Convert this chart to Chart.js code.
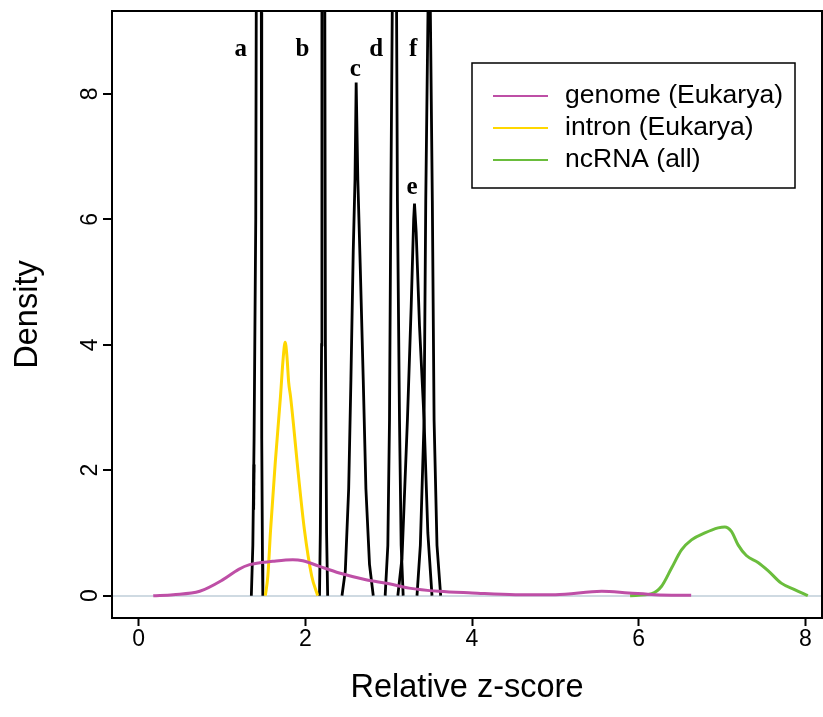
<!DOCTYPE html>
<html>
<head>
<meta charset="utf-8">
<script src="https://cdn.jsdelivr.net/npm/chart.js@4/dist/chart.umd.min.js"></script>
<style>
  html, body { margin: 0; padding: 0; background: #fff; }
</style>
</head>
<body>
<canvas id="chart" width="823" height="717"></canvas>
<script>
// axis ticks
const xTicks = [0, 2, 4, 6, 8];
const yTicks = [0, 2, 4, 6, 8];

// coloured density curves
const seriesNames = ['genome (Eukarya)', 'intron (Eukarya)', 'ncRNA (all)'];
const genomeX = [0.175, 0.414, 0.733, 1.012, 1.2, 1.331, 1.61, 1.849, 1.969, 2.169, 2.408, 2.727, 3.006, 3.245, 3.604, 4.002, 4.52, 5.0, 5.557, 5.877, 6.196, 6.63];
const genomeY = [0, 0.016, 0.07, 0.255, 0.42, 0.494, 0.547, 0.574, 0.558, 0.467, 0.362, 0.255, 0.19, 0.12, 0.069, 0.043, 0.016, 0.016, 0.069, 0.043, 0.016, 0.005];
const intronX = [1.52, 1.55, 1.583, 1.639, 1.702, 1.735, 1.758, 1.78, 1.80, 1.822, 1.86, 1.902, 1.989, 2.077, 2.148];
const intronY = [0, 0.31, 1.05, 2.12, 3.18, 3.8, 4.04, 3.8, 3.4, 3.18, 2.7, 2.12, 1.05, 0.31, 0];
const ncrnaX = [5.897, 6.156, 6.275, 6.395, 6.514, 6.634, 6.794, 6.953, 7.033, 7.113, 7.193, 7.292, 7.432, 7.552, 7.711, 7.871, 8.03];
const ncrnaY = [0, 0.032, 0.15, 0.44, 0.73, 0.89, 1.0, 1.08, 1.096, 1.025, 0.81, 0.64, 0.53, 0.40, 0.20, 0.096, 0];

// black peaks a-f
const peakAX = [1.352, 1.37, 1.385, 1.405, 1.411, 1.44, 1.472, 1.475, 1.479, 1.486, 1.49];
const peakAY = [0, 0.8, 2.5, 6, 9.3, 40, 9.3, 6, 2.5, 0.5, 0];
const stubAX = [1.38, 1.385];
const stubAY = [1.37, 2.09];
const peakBX = [2.17, 2.18, 2.195, 2.199, 2.215, 2.234, 2.241, 2.255, 2.268];
const peakBY = [0, 1, 4, 9.3, 40, 9.3, 4, 1, 0];
const peakCX = [2.44, 2.48, 2.52, 2.547, 2.575, 2.596, 2.61, 2.63, 2.66, 2.695, 2.727, 2.77, 2.815];
const peakCY = [0, 0.4, 1.7, 3.44, 5.5, 6.63, 8.18, 6.63, 5.2, 3.44, 1.7, 0.5, 0];
const peakDX = [2.958, 2.99, 3.01, 3.026, 3.043, 3.07, 3.095, 3.105, 3.13, 3.15, 3.174];
const peakDY = [0, 0.8, 2.8, 6.3, 9.3, 15, 9.3, 6.3, 2.8, 0.8, 0];
const peakEX = [3.11, 3.16, 3.225, 3.27, 3.30, 3.31, 3.33, 3.37, 3.425, 3.47, 3.52];
const peakEY = [0, 0.6, 2.8, 4.6, 6.0, 6.25, 5.8, 4.3, 2.8, 1.0, 0];
const peakFX = [3.34, 3.38, 3.425, 3.445, 3.487, 3.524, 3.545, 3.58, 3.624];
const peakFY = [0, 0.8, 2.8, 6.3, 11, 6.3, 2.8, 0.8, 0];

// peak letters
const peakLetters = ['a', 'b', 'c', 'd', 'e', 'f'];
const letterX = [1.224, 1.965, 2.60, 2.85, 3.28, 3.293];
const letterY = [8.74, 8.74, 8.42, 8.74, 6.54, 8.74];

const seriesColors = ['#be4fa6', '#ffd700', '#6abd3c'];

function pts(xs, ys) {
  return xs.map((x, i) => ({ x: x, y: ys[i] }));
}

function blackLine(xs, ys) {
  return {
    data: pts(xs, ys),
    borderColor: '#000',
    borderWidth: 2.8,
    pointRadius: 0,
    showLine: true,
    tension: 0,
    fill: false
  };
}

function colourLine(i, xs, ys) {
  return {
    label: seriesNames[i],
    data: pts(xs, ys),
    borderColor: seriesColors[i],
    borderWidth: 3,
    pointRadius: 0,
    showLine: true,
    cubicInterpolationMode: 'monotone',
    fill: false
  };
}

const sans = "'Liberation Sans', Arial, sans-serif";

const rStyle = {
  id: 'rStyle',
  afterDraw(chart) {
    const ctx = chart.ctx;
    const area = chart.chartArea;
    const xs = chart.scales.x;
    const ys = chart.scales.y;
    ctx.save();
    // plot box
    ctx.strokeStyle = '#000';
    ctx.lineWidth = 2;
    ctx.strokeRect(area.left, area.top, area.right - area.left, area.bottom - area.top);

    // rotated y tick labels
    ctx.fillStyle = '#000';
    ctx.font = '23px ' + sans;
    ctx.textAlign = 'center';
    ctx.textBaseline = 'middle';
    yTicks.forEach(v => {
      ctx.save();
      ctx.translate(area.left - 21, ys.getPixelForValue(v));
      ctx.rotate(-Math.PI / 2);
      ctx.fillText(String(v), 0, 0);
      ctx.restore();
    });

    // peak letters
    ctx.font = "bold 25px 'Liberation Serif', 'Times New Roman', serif";
    ctx.textBaseline = 'alphabetic';
    peakLetters.forEach((t, i) => {
      ctx.fillText(t, xs.getPixelForValue(letterX[i]), ys.getPixelForValue(letterY[i]) + 9);
    });

    // legend
    const bx = 472, by = 63, bw = 323, bh = 125;
    ctx.fillStyle = '#fff';
    ctx.fillRect(bx, by, bw, bh);
    ctx.lineWidth = 1.5;
    ctx.strokeRect(bx, by, bw, bh);
    ctx.font = '26.5px ' + sans;
    ctx.textAlign = 'left';
    ctx.textBaseline = 'middle';
    seriesNames.forEach((name, i) => {
      const yy = by + 33 + i * 32;
      ctx.strokeStyle = seriesColors[i];
      ctx.lineWidth = 2;
      ctx.beginPath();
      ctx.moveTo(bx + 21, yy);
      ctx.lineTo(bx + 76, yy);
      ctx.stroke();
      ctx.fillStyle = '#000';
      ctx.fillText(name, bx + 93, yy);
    });
    ctx.restore();
  }
};

new Chart(document.getElementById('chart'), {
  type: 'scatter',
  data: {
    datasets: [
      colourLine(0, genomeX, genomeY),
      colourLine(1, intronX, intronY),
      colourLine(2, ncrnaX, ncrnaY),
      blackLine(peakAX, peakAY),
      blackLine(stubAX, stubAY),
      blackLine(peakBX, peakBY),
      blackLine(peakCX, peakCY),
      blackLine(peakDX, peakDY),
      blackLine(peakEX, peakEY),
      blackLine(peakFX, peakFY)
    ]
  },
  options: {
    responsive: false,
    animation: false,
    layout: { padding: { top: 11, right: 1, left: 0, bottom: 0 } },
    plugins: {
      legend: { display: false },
      tooltip: { enabled: false }
    },
    scales: {
      x: {
        type: 'linear',
        min: -0.32,
        max: 8.2,
        afterBuildTicks: s => { s.ticks = xTicks.map(v => ({ value: v })); },
        afterFit: s => { s.height = 99; },
        border: { display: true, color: '#000', width: 2 },
        grid: { drawOnChartArea: false, drawTicks: true, tickLength: 8, tickWidth: 2, tickColor: '#000' },
        ticks: { color: '#000', font: { family: sans, size: 23 }, padding: 0, maxRotation: 0 },
        title: {
          display: true, text: 'Relative z-score', color: '#000',
          font: { family: sans, size: 32.5 }, padding: { top: 0, bottom: 9 }
        }
      },
      y: {
        type: 'linear',
        min: -0.356,
        max: 9.32,
        afterBuildTicks: s => { s.ticks = yTicks.map(v => ({ value: v })); },
        afterFit: s => { s.width = 112; },
        border: { display: true, color: '#000', width: 2 },
        grid: {
          drawOnChartArea: true,
          color: c => (c.tick && c.tick.value === 0 ? '#cfdae2' : 'rgba(0,0,0,0)'),
          lineWidth: 2,
          drawTicks: true, tickLength: 9, tickWidth: 2, tickColor: '#000'
        },
        ticks: { display: false },
        title: {
          display: true, text: 'Density', color: '#000',
          font: { family: sans, size: 32.5 }, padding: { top: 9, bottom: 0 }
        }
      }
    }
  },
  plugins: [rStyle]
});
</script>
</body>
</html>
